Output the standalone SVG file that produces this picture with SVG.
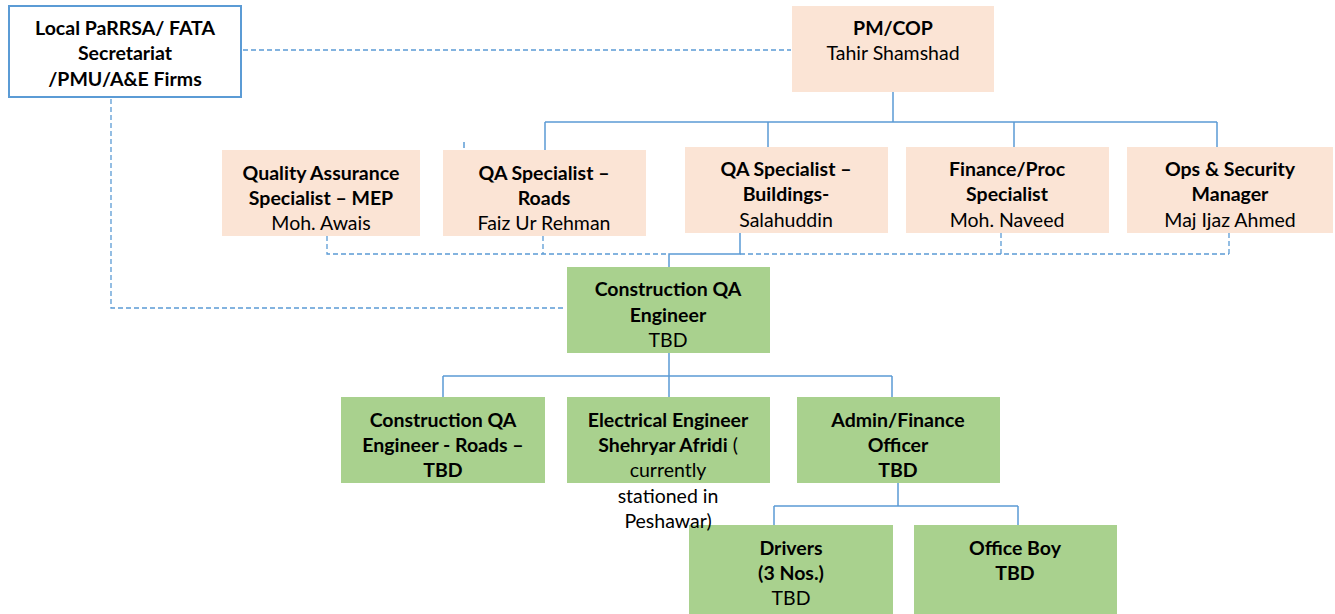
<svg xmlns="http://www.w3.org/2000/svg" width="1335" height="614" viewBox="0 0 1335 614">
<style>
text{font-family:Lato,"Open Sans","Liberation Sans",sans-serif;font-size:19.5px;fill:#000;text-anchor:middle}
.b{font-weight:bold}
.peach{fill:#fbe4d5}
.green{fill:#a9d18e}
.ln{stroke:#5b9bd5;stroke-width:1.5;fill:none}
.dash{stroke:#5b9bd5;stroke-width:1.3;fill:none;stroke-dasharray:5 3}
</style>
<rect width="1335" height="614" fill="#fff"/>
<g id="connectors">
<path class="dash" d="M243 50 H791"/>
<path class="dash" d="M111 99 V308 H566"/>
<path class="ln" d="M893 92 V122 M545 122 H1217 M545 122 V150 M768 122 V147 M1014 122 V147 M1217 122 V147"/>
<path class="ln" d="M464 142 V148"/>
<path class="dash" d="M327 236 V254 H669 M543 236 V254 M740 254 H1229 M1001 233 V254 M1229 233 V254"/>
<path class="ln" d="M740 233 V254 H669 V267"/>
<path class="ln" d="M669 353 V376 M443 376 H892 M443 376 V397 M669 376 V397 M892 376 V397"/>
<path class="ln" d="M898 483 V506 M774 506 H1018 M774 506 V525 M1018 506 V525"/>
</g>
<g id="local">
<rect x="9" y="6" width="232" height="91" fill="#fff" stroke="#5b9bd5" stroke-width="2"/>
<text class="b" x="125" y="35">Local PaRRSA/ FATA</text>
<text class="b" x="125" y="60">Secretariat</text>
<text class="b" x="125" y="86">/PMU/A&amp;E Firms</text>
</g>
<g id="pm">
<rect class="peach" x="792" y="6" width="202" height="86"/>
<text class="b" x="893" y="35">PM/COP</text>
<text x="893" y="60">Tahir Shamshad</text>
</g>
<g id="mep">
<rect class="peach" x="222" y="150" width="198" height="86"/>
<text class="b" x="321" y="180">Quality Assurance</text>
<text class="b" x="321" y="205">Specialist – MEP</text>
<text x="321" y="230">Moh. Awais</text>
</g>
<g id="roads">
<rect class="peach" x="443" y="150" width="203" height="86"/>
<text class="b" x="544" y="180">QA Specialist –</text>
<text class="b" x="544" y="205">Roads</text>
<text x="544" y="230">Faiz Ur Rehman</text>
</g>
<g id="buildings">
<rect class="peach" x="685" y="147" width="203" height="86"/>
<text class="b" x="786" y="176">QA Specialist –</text>
<text class="b" x="786" y="201">Buildings-</text>
<text x="786" y="227">Salahuddin</text>
</g>
<g id="finance">
<rect class="peach" x="906" y="147" width="203" height="86"/>
<text class="b" x="1007" y="176">Finance/Proc</text>
<text class="b" x="1007" y="201">Specialist</text>
<text x="1007" y="227">Moh. Naveed</text>
</g>
<g id="ops">
<rect class="peach" x="1127" y="147" width="206" height="86"/>
<text class="b" x="1230" y="176">Ops &amp; Security</text>
<text class="b" x="1230" y="201">Manager</text>
<text x="1230" y="227">Maj Ijaz Ahmed</text>
</g>
<g id="cqa">
<rect class="green" x="567" y="267" width="203" height="86"/>
<text class="b" x="668" y="296">Construction QA</text>
<text class="b" x="668" y="322">Engineer</text>
<text x="668" y="347">TBD</text>
</g>
<g id="cqaroads">
<rect class="green" x="341" y="397" width="204" height="86"/>
<text class="b" x="443" y="427">Construction QA</text>
<text class="b" x="443" y="452">Engineer - Roads –</text>
<text class="b" x="443" y="477">TBD</text>
</g>
<g id="admin">
<rect class="green" x="797" y="397" width="203" height="86"/>
<text class="b" x="898" y="427">Admin/Finance</text>
<text class="b" x="898" y="452">Officer</text>
<text class="b" x="898" y="477">TBD</text>
</g>
<g id="drivers">
<rect class="green" x="689" y="525" width="204" height="89"/>
<text class="b" x="791" y="555">Drivers</text>
<text class="b" x="791" y="580">(3 Nos.)</text>
<text x="791" y="605">TBD</text>
</g>
<g id="officeboy">
<rect class="green" x="914" y="525" width="203" height="89"/>
<text class="b" x="1015" y="555">Office Boy</text>
<text class="b" x="1015" y="580">TBD</text>
</g>
<g id="electrical">
<rect class="green" x="567" y="397" width="203" height="86"/>
<text class="b" x="668" y="427">Electrical Engineer</text>
<text x="668" y="452"><tspan class="b">Shehryar Afridi</tspan> (</text>
<text x="668" y="477">currently</text>
<text x="668" y="503">stationed in</text>
<text x="668" y="528">Peshawar)</text>
</g>
</svg>
